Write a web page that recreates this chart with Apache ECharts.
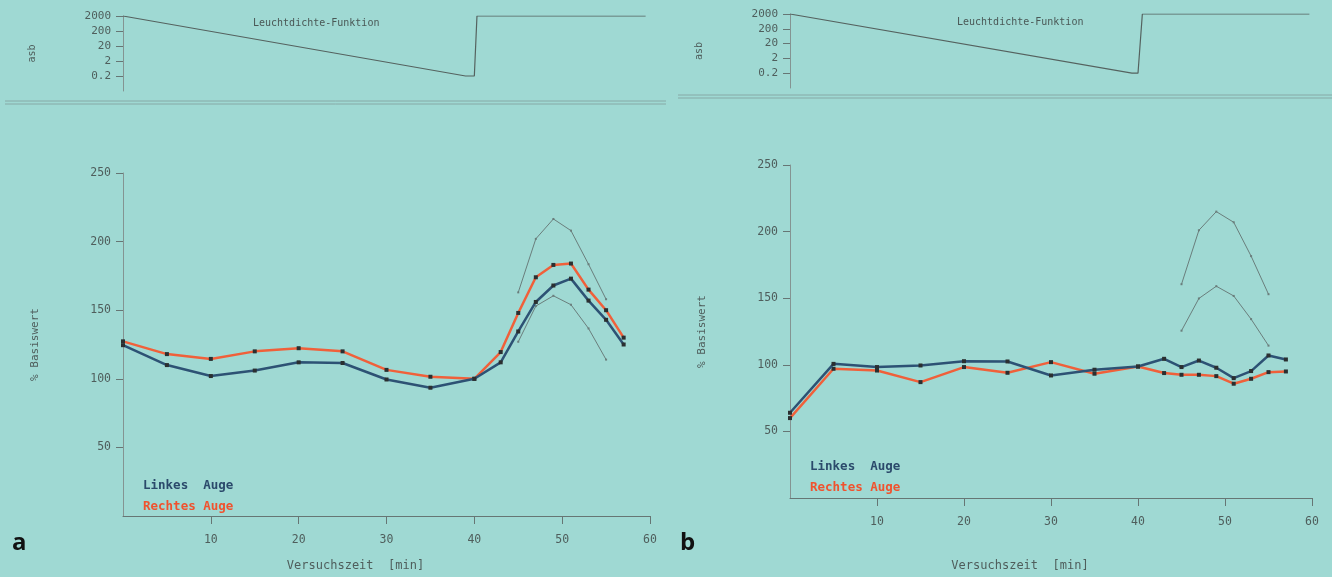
<!DOCTYPE html>
<html>
<head>
<meta charset="utf-8">
<script src="https://cdn.jsdelivr.net/npm/echarts@6/dist/echarts.min.js"></script>
<style>
  html, body { margin: 0; padding: 0; background: #9fd9d3; }
  #chart { width: 1332px; height: 577px; }
</style>
</head>
<body>
<div id="chart"></div>
<script>
// Versuchszeit [min]
const times = [0, 5, 10, 15, 20, 25, 30, 35, 40, 43, 45, 47, 49, 51, 53, 55, 57]
const bandTimes = [45, 47, 49, 51, 53, 55]

// Panel a
const leftA = [124.5, 110, 102, 106, 112, 111.5, 99.5, 93.5, 100, 112, 134.5, 156, 168, 173, 157, 143, 125]
const rightA = [127.3, 118, 114.5, 120, 122.3, 120, 106.5, 101.5, 100, 119.5, 148, 174, 183, 184, 165, 150, 130]
const upperA = [163, 202, 216.5, 208, 183.5, 158]
const lowerA = [127, 153, 160.5, 154, 136.7, 114]

// Panel b
const leftB = [64, 100.7, 98.3, 99.5, 102.7, 102.5, 92, 96.3, 98.7, 104.5, 98.3, 103.2, 97.8, 90, 95.3, 107, 104]
const rightB = [60, 97, 95.7, 87, 98.3, 94, 102, 93.3, 98.7, 93.8, 92.5, 92.5, 91.5, 85.8, 89.5, 94.5, 95]
const upperB = [160.5, 201, 215, 207, 181.6, 153]
const lowerB = [125.6, 149.8, 159, 151.7, 134.3, 114.4]

// Leuchtdichte-Funktion (asb)
const lumTimesA = [0, 39, 40, 40.3, 59.5]
const lumTimesB = [0, 39.3, 40, 40.5, 59.7]
const lumValues = [2000, 0.2, 0.2, 2000, 2000]

const xTicks = [10, 20, 30, 40, 50, 60]
const yTicks = [50, 100, 150, 200, 250]
const lumTicks = [0.2, 2, 20, 200, 2000]

const mono = 'DejaVu Sans Mono'
const axisGrey = '#667674'
const textGrey = '#4f5e5c'
const blue = '#2d5274'
const red = '#f0603a'
const bandGrey = '#6a7e7c'

const pairs = (xs, ys) => xs.map((x, i) => [x, ys[i]])

const myChart = echarts.init(document.getElementById('chart'))

function mainX (gridIndex, gap) {
  return {
    type: 'value', gridIndex, min: 0, max: 60,
    splitLine: { show: false },
    axisLine: { lineStyle: { color: axisGrey, width: 1 } },
    axisTick: { show: true, length: 8, customValues: xTicks, lineStyle: { color: axisGrey } },
    axisLabel: { customValues: xTicks, margin: 18, color: textGrey, fontFamily: mono, fontSize: 11.5 },
    name: 'Versuchszeit  [min]', nameLocation: 'middle', nameGap: gap,
    nameTextStyle: { color: textGrey, fontFamily: mono, fontSize: 12, padding: [0, 62, 0, 0] }
  }
}
function mainY (gridIndex) {
  return {
    type: 'value', gridIndex, min: 0, max: 250,
    splitLine: { show: false },
    axisLine: { show: true, lineStyle: { color: '#849492', width: 1 } },
    axisTick: { show: true, length: 7, customValues: yTicks, lineStyle: { color: axisGrey } },
    axisLabel: { customValues: yTicks, margin: 12, color: textGrey, fontFamily: mono, fontSize: 11.5 },
    name: '% Basiswert', nameLocation: 'middle', nameGap: 82,
    nameTextStyle: { color: textGrey, fontFamily: mono, fontSize: 11 }
  }
}
function miniX (gridIndex) {
  return { type: 'value', gridIndex, min: 0, max: 60, show: false }
}
function miniY (gridIndex) {
  return {
    type: 'log', logBase: 10, gridIndex, min: 0.02, max: 2000,
    splitLine: { show: false },
    axisLine: { show: true, lineStyle: { color: '#849492', width: 1 } },
    axisTick: { show: true, length: 7, customValues: lumTicks, lineStyle: { color: axisGrey } },
    axisLabel: {
      customValues: lumTicks, margin: 12, color: textGrey, fontFamily: mono, fontSize: 11,
      formatter: (v) => String(v)
    },
    name: 'asb', nameLocation: 'middle', nameGap: 86,
    nameTextStyle: { color: textGrey, fontFamily: mono, fontSize: 10 }
  }
}
function eyeLine (name, data, color, xi) {
  return {
    name, type: 'line', xAxisIndex: xi, yAxisIndex: xi, data,
    lineStyle: { color, width: 2.5 },
    itemStyle: { color: '#2b2f30' },
    symbol: 'rect', symbolSize: 4, showSymbol: true, z: color === red ? 3 : 4
  }
}
function bandLine (data, xi) {
  return {
    type: 'line', xAxisIndex: xi, yAxisIndex: xi, data,
    lineStyle: { color: bandGrey, width: 1 },
    itemStyle: { color: bandGrey },
    symbol: 'rect', symbolSize: 2, z: 2
  }
}
function lumLine (data, xi) {
  return {
    type: 'line', xAxisIndex: xi, yAxisIndex: xi, data,
    lineStyle: { color: '#55625f', width: 1.2 },
    symbol: 'none'
  }
}

const titleStyle = { fontFamily: mono, fontSize: 10, fontWeight: 'normal', color: '#4a5856' }
const legendFont = 'bold 12.5px "DejaVu Sans Mono"'

const option = {
  backgroundColor: '#9fd9d3',
  animation: false,
  title: [
    { text: 'Leuchtdichte-Funktion', left: 248, top: 13, textStyle: titleStyle },
    { text: 'Leuchtdichte-Funktion', left: 952, top: 12, textStyle: titleStyle }
  ],
  grid: [
    { left: 123, right: 682, top: 173, bottom: 57 },
    { left: 790, right: 20, top: 165, bottom: 77 },
    { left: 123, right: 682, top: 16, height: 75 },
    { left: 790, right: 20, top: 14, height: 74 }
  ],
  xAxis: [mainX(0, 44), mainX(1, 62), miniX(2), miniX(3)],
  yAxis: [mainY(0), mainY(1), miniY(2), miniY(3)],
  series: [
    bandLine(pairs(bandTimes, upperA), 0),
    bandLine(pairs(bandTimes, lowerA), 0),
    eyeLine('Rechtes Auge', pairs(times, rightA), red, 0),
    eyeLine('Linkes Auge', pairs(times, leftA), blue, 0),
    bandLine(pairs(bandTimes, upperB), 1),
    bandLine(pairs(bandTimes, lowerB), 1),
    eyeLine('Rechtes Auge', pairs(times, rightB), red, 1),
    eyeLine('Linkes Auge', pairs(times, leftB), blue, 1),
    lumLine(pairs(lumTimesA, lumValues), 2),
    lumLine(pairs(lumTimesB, lumValues), 3)
  ],
  graphic: [
    { type: 'line', shape: { x1: 5, y1: 101, x2: 666, y2: 101 }, style: { stroke: '#86a9a6', lineWidth: 1 } },
    { type: 'line', shape: { x1: 5, y1: 104, x2: 666, y2: 104 }, style: { stroke: '#86a9a6', lineWidth: 1 } },
    { type: 'line', shape: { x1: 678, y1: 95, x2: 1332, y2: 95 }, style: { stroke: '#86a9a6', lineWidth: 1 } },
    { type: 'line', shape: { x1: 678, y1: 98, x2: 1332, y2: 98 }, style: { stroke: '#86a9a6', lineWidth: 1 } },
    { type: 'text', left: 143, top: 479, style: { text: 'Linkes  Auge', fill: '#2b4a6b', font: legendFont } },
    { type: 'text', left: 143, top: 500, style: { text: 'Rechtes Auge', fill: '#f0522e', font: legendFont } },
    { type: 'text', left: 810, top: 460, style: { text: 'Linkes  Auge', fill: '#2b4a6b', font: legendFont } },
    { type: 'text', left: 810, top: 481, style: { text: 'Rechtes Auge', fill: '#f0522e', font: legendFont } },
    { type: 'text', left: 12, top: 531, style: { text: 'a', fill: '#111', font: 'bold 24px "Open Sans"' } },
    { type: 'text', left: 680, top: 531, style: { text: 'b', fill: '#111', font: 'bold 24px "Open Sans"' } }
  ]
}
myChart.setOption(option)
</script>
</body>
</html>
